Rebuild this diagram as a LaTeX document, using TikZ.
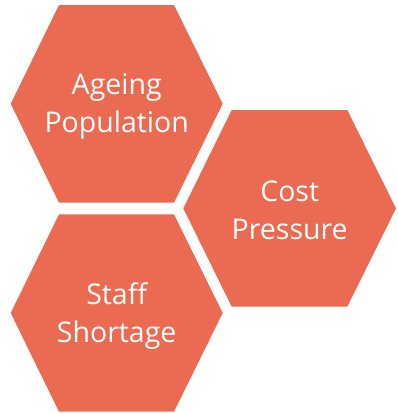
\documentclass[tikz,border=0pt]{standalone}
\usepackage{fontspec}
\setmainfont{Open Sans}
\definecolor{hexfill}{RGB}{235,106,82}
\begin{document}
\begin{tikzpicture}[x=1pt,y=-1pt,
  hexlabel/.style={text=white,align=center,inner sep=0pt,font=\fontsize{28.5}{38}\selectfont}]
\useasboundingbox (0,0) rectangle (398,413);
% hexagon 1
\fill[hexfill] (10.7,103.8) -- (59,5) -- (174,5) -- (222.7,103.8) -- (174,202.7) -- (59,202.7) -- cycle;
% hexagon 2
\fill[hexfill] (183.3,208.4) -- (231.7,110) -- (347.3,110) -- (396,208.4) -- (347.3,306.7) -- (231.7,306.7) -- cycle;
% hexagon 3
\fill[hexfill] (10.7,313) -- (59,214.3) -- (174,214.3) -- (222.7,313) -- (174,411.7) -- (59,411.7) -- cycle;
\node[hexlabel] (ageing) at (116.7,106) {Ageing\\Population};
\node[hexlabel] (cost) at (289.7,210) {Cost\\Pressure};
\node[hexlabel] (staff) at (116.7,316) {Staff\\Shortage};
\end{tikzpicture}
\end{document}
